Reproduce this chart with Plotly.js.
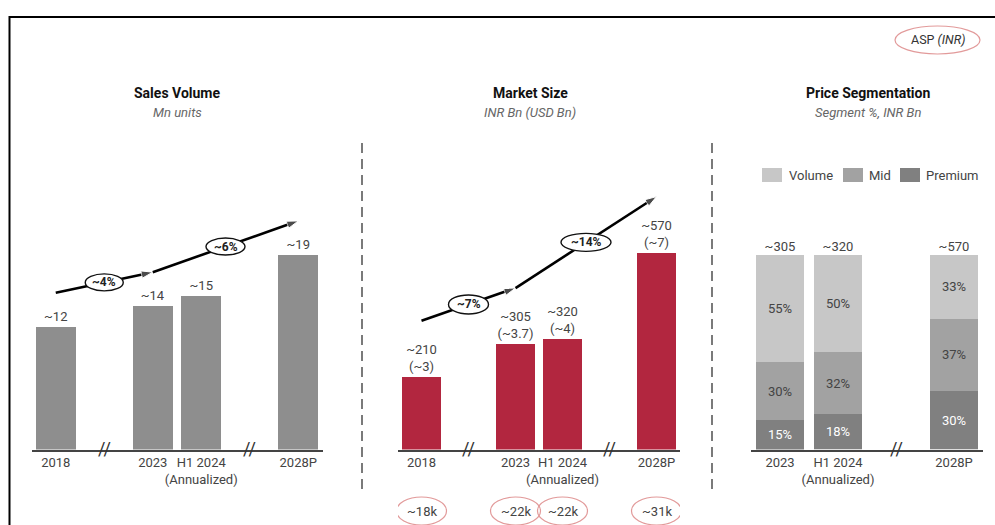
<!DOCTYPE html>
<html>
<head>
<meta charset="utf-8">
<script src="https://cdn.plot.ly/plotly-3.0.1.min.js"></script>
<style>html,body{margin:0;padding:0;background:#fff;}#chart{width:995px;height:525px;}</style>
</head>
<body>
<div id="chart"></div>
<script>
// ---------- data ----------
const yearCats = ['2018', '2023', 'H1 2024', '2028P'];
const yearTickText = ['2018', '2023', 'H1 2024<br>(Annualized)', '2028P'];
const salesVolume = [12, 14, 15, 19];            // Mn units
const marketSizeINR = [210, 305, 320, 570];      // INR Bn
const marketSizeUSD = [3, 3.7, 4, 7];            // USD Bn
const aspK = [18, 22, 22, 31];                   // ASP, INR thousands
const segCats = ['2023', 'H1 2024', '2028P'];
const segTickText = ['2023', 'H1 2024<br>(Annualized)', '2028P'];
const segTotals = [305, 320, 570];               // INR Bn
const segVolume = [55, 50, 33];
const segMid = [30, 32, 37];
const segPremium = [15, 18, 30];
const segNames = ['Volume', 'Mid', 'Premium'];
const cagrSpans = [['2018', '2023'], ['2023', '2028P']];
const salesCagr = [4, 6];
const marketCagr = [7, 14];

// ---------- styling ----------
const FONT = 'Roboto, "Noto Sans", Arial, sans-serif';
const TXT = '#444';
const GREY_BAR = '#8e8e8e';
const RED_BAR = '#b2263f';
const SEG_COLORS = {Volume: '#c7c7c7', Mid: '#a2a2a2', Premium: '#808080'};
const SEG_TEXT = {Volume: TXT, Mid: TXT, Premium: '#ffffff'};
const ASP_RED = '#e29a9a';
const W = 995, H = 525;
const px = v => v / W;
const py = v => (H - v) / H;

// category orders with break slots
const catOrder12 = ['2018', 'brk-a', '2023', 'H1 2024', 'brk-b', '2028P'];
const catOrder3 = ['2023', 'H1 2024', 'brk-c', '2028P'];

const yDom = [py(449.5), py(168)];
const domPx = (yDom[1] - yDom[0]) * H;
const yMax1 = domPx / 10.25;
const yMax2 = domPx / 0.345;
const yMax3 = domPx / 1.95;

const off1 = 3.3;   // arrow offset above bars (data units) panel 1
const off2 = 163;   // panel 2

const traces = [];

// Panel 1 bars
traces.push({
  type: 'bar', x: yearCats, y: salesVolume, xaxis: 'x', yaxis: 'y',
  marker: {color: GREY_BAR}, showlegend: false,
  text: salesVolume.map(v => '~' + v), textposition: 'outside',
  textfont: {family: FONT, size: 13, color: TXT}, cliponaxis: false, hoverinfo: 'skip'
});
// Panel 2 bars
traces.push({
  type: 'bar', x: yearCats, y: marketSizeINR, xaxis: 'x2', yaxis: 'y2',
  marker: {color: RED_BAR}, showlegend: false,
  text: marketSizeINR.map((v, i) => '~' + v + '<br>(~' + marketSizeUSD[i] + ')'), textposition: 'outside',
  textfont: {family: FONT, size: 13, color: TXT}, cliponaxis: false, hoverinfo: 'skip'
});
// Panel 3 stacked bars (bottom to top)
const segVals = {Volume: segVolume, Mid: segMid, Premium: segPremium};
segNames.slice().reverse().forEach(name => {
  const vals = segVals[name];
  traces.push({
    type: 'bar', name: name, x: segCats, y: vals, xaxis: 'x3', yaxis: 'y3',
    marker: {color: SEG_COLORS[name]}, text: vals.map(v => v + '%'), textposition: 'inside',
    insidetextanchor: 'middle', constraintext: 'none', textangle: 0, showlegend: false,
    textfont: {family: FONT, size: 13, color: SEG_TEXT[name]}, hoverinfo: 'skip'
  });
});
// Panel 3 totals
traces.push({
  type: 'scatter', mode: 'text', x: segCats,
  y: segCats.map((c, i) => segVolume[i] + segMid[i] + segPremium[i]),
  text: segTotals.map(v => '~' + v), textposition: 'top center',
  textfont: {family: FONT, size: 13, color: TXT}, xaxis: 'x3', yaxis: 'y3',
  showlegend: false, cliponaxis: false, hoverinfo: 'skip'
});

// CAGR arrows
function addArrows(vals, off, xa, ya) {
  cagrSpans.forEach(sp => {
    const y = sp.map(c => vals[yearCats.indexOf(c)] + off);
    traces.push({
      type: 'scatter', mode: 'lines+markers', x: sp, y: y, xaxis: xa, yaxis: ya,
      line: {color: '#000', width: 2.6},
      marker: {symbol: 'arrow', size: [0, 12], angleref: 'previous', color: '#000'},
      showlegend: false, cliponaxis: false, hoverinfo: 'skip'
    });
  });
}
addArrows(salesVolume, off1, 'x', 'y');
addArrows(marketSizeINR, off2, 'x2', 'y2');

const shapes = [];
const annotations = [];

// frame
shapes.push({type: 'rect', xref: 'paper', yref: 'paper', x0: px(9.5), x1: 1.05, y0: -0.1, y1: py(17),
  line: {color: '#000', width: 2}, fillcolor: 'rgba(0,0,0,0)', layer: 'below'});
// dashed separators
[362, 712].forEach(x => shapes.push({type: 'line', xref: 'paper', yref: 'paper', x0: px(x), x1: px(x),
  y0: py(143), y1: py(490), line: {color: '#7a7a7a', width: 2, dash: '10px,6px'}}));

// CAGR labels (ellipse + text)
function addCagrLabels(vals, cagr, off, xa, ya, sizes) {
  cagrSpans.forEach((sp, k) => {
    const i0 = catOrder12.indexOf(sp[0]), i1 = catOrder12.indexOf(sp[1]);
    const v0 = vals[yearCats.indexOf(sp[0])], v1 = vals[yearCats.indexOf(sp[1])];
    const xm = (i0 + i1) / 2, ym = (v0 + v1) / 2 + off;
    const [w, h] = sizes[k];
    shapes.push({type: 'circle', xref: xa, yref: ya, xsizemode: 'pixel', ysizemode: 'pixel',
      xanchor: xm, yanchor: ym, x0: -w / 2, x1: w / 2, y0: -h / 2, y1: h / 2,
      fillcolor: '#fff', line: {color: '#111', width: 1.4}, layer: 'above'});
    annotations.push({xref: xa, yref: ya, x: xm, y: ym, xanchor: 'center', yanchor: 'middle',
      text: '<b>~' + cagr[k] + '%</b>', showarrow: false, font: {family: FONT, size: 12, color: '#222'}});
  });
}
addCagrLabels(salesVolume, salesCagr, off1, 'x', 'y', [[38, 17], [39, 17]]);
addCagrLabels(marketSizeINR, marketCagr, off2, 'x2', 'y2', [[40, 19], [50, 18]]);

// axis breaks
[['x', 'y', 'brk-a'], ['x', 'y', 'brk-b'], ['x2', 'y2', 'brk-a'], ['x2', 'y2', 'brk-b'], ['x3', 'y3', 'brk-c']]
  .forEach(([xa, ya, c]) => annotations.push({xref: xa, yref: ya, x: c, y: 0, xanchor: 'center', yanchor: 'middle',
    text: '//', showarrow: false, font: {family: FONT, size: 18, color: '#333'}, bgcolor: 'rgba(0,0,0,0)', borderpad: 0, yshift: 1}));

// ASP ellipses under market size bars
yearCats.forEach((c, i) => {
  const xi = catOrder12.indexOf(c);
  shapes.push({type: 'circle', xref: 'x2', yref: 'paper', xsizemode: 'pixel', xanchor: xi,
    x0: -25, x1: 25, y0: py(525), y1: py(497), line: {color: ASP_RED, width: 1.2}, fillcolor: 'rgba(0,0,0,0)'});
  annotations.push({xref: 'x2', yref: 'paper', x: xi, y: py(511), xanchor: 'center', yanchor: 'middle',
    text: '~' + aspK[i] + 'k', showarrow: false, font: {family: FONT, size: 13, color: TXT}});
});

// ASP (INR) key at top right
shapes.push({type: 'circle', xref: 'paper', yref: 'paper', x0: px(895), x1: px(980), y0: py(54), y1: py(26),
  line: {color: ASP_RED, width: 1.2}, fillcolor: 'rgba(0,0,0,0)'});
annotations.push({xref: 'paper', yref: 'paper', x: px(938), y: py(40), xanchor: 'center', yanchor: 'middle',
  text: 'ASP <i>(INR)</i>', showarrow: false, font: {family: FONT, size: 12.5, color: '#333'}});

// custom legend for price segments
const legendItems = [[762, 787], [843, 867], [900, 924]];
segNames.forEach((name, k) => {
  const [bx, tx] = legendItems[k];
  shapes.push({type: 'rect', xref: 'paper', yref: 'paper', x0: px(bx), x1: px(bx + 20), y0: py(182), y1: py(168),
    fillcolor: SEG_COLORS[name], line: {width: 0}});
  annotations.push({xref: 'paper', yref: 'paper', x: px(tx), y: py(175), xanchor: 'left', yanchor: 'middle',
    text: name, showarrow: false, font: {family: FONT, size: 13, color: TXT}});
});

// titles (centre x in px)
const titles = [
  [177, 'Sales Volume', 'Mn units'],
  [530, 'Market Size', 'INR Bn (USD Bn)'],
  [868, 'Price Segmentation', 'Segment %, INR Bn']
];
titles.forEach(([xc, t, s]) => {
  annotations.push({xref: 'paper', yref: 'paper', x: px(xc), y: py(93), xanchor: 'center', yanchor: 'middle',
    text: '<b>' + t + '</b>', showarrow: false, font: {family: FONT, size: 14, color: '#111'}});
  annotations.push({xref: 'paper', yref: 'paper', x: px(xc), y: py(112.5), xanchor: 'center', yanchor: 'middle',
    text: '<i>' + s + '</i>', showarrow: false, font: {family: FONT, size: 13, color: '#666'}});
});

const xDom1 = [px(31.5), px(322.5)], xDom2 = [px(398), px(680)], xDom3 = [px(751), px(983)];
function xAxis(domain, order, tickvals, ticktext, anchor) {
  return {domain: domain, anchor: anchor, type: 'category', categoryorder: 'array', categoryarray: order,
    range: [-0.5, order.length - 0.5], tickmode: 'array', tickvals: tickvals, ticktext: ticktext, tickangle: 0,
    showline: true, linecolor: '#444', linewidth: 2, showgrid: false, zeroline: false, ticks: '',
    tickfont: {family: FONT, size: 13, color: TXT}, fixedrange: true, automargin: false};
}
function yAxis(max, anchor) {
  return {domain: yDom, anchor: anchor, range: [0, max], showgrid: false, zeroline: false, showline: false,
    showticklabels: false, ticks: '', fixedrange: true};
}

const layout = {
  width: W, height: H, margin: {l: 0, r: 0, t: 0, b: 0},
  paper_bgcolor: '#fff', plot_bgcolor: 'rgba(0,0,0,0)',
  font: {family: FONT, color: TXT},
  barmode: 'stack', bargap: 0.175, showlegend: false,
  xaxis: xAxis(xDom1, catOrder12, yearCats, yearTickText, 'y'),
  yaxis: yAxis(yMax1, 'x'),
  xaxis2: xAxis(xDom2, catOrder12, yearCats, yearTickText, 'y2'),
  yaxis2: yAxis(yMax2, 'x2'),
  xaxis3: xAxis(xDom3, catOrder3, segCats, segTickText, 'y3'),
  yaxis3: yAxis(yMax3, 'x3'),
  shapes: shapes, annotations: annotations
};

Plotly.newPlot('chart', traces, layout, {displayModeBar: false, staticPlot: true});
</script>
</body>
</html>
